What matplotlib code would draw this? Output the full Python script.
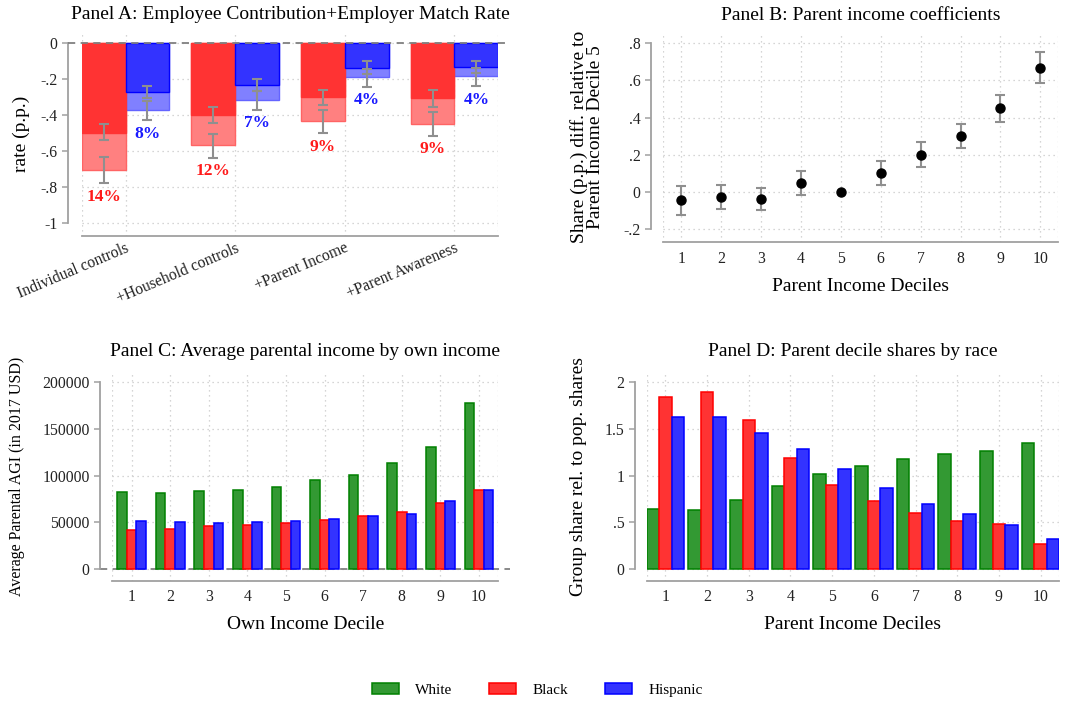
import numpy as np
import matplotlib
matplotlib.use("Agg")
import matplotlib.pyplot as plt
from matplotlib.patches import Patch
import matplotlib.transforms as mtransforms

plt.rcParams['font.family'] = ['Liberation Serif', 'DejaVu Serif']

# ---------------- Data ----------------
# Panel A
categories_A = ["Individual controls", "+Household controls", "+Parent Income", "+Parent Awareness"]
black_contrib = [-0.496, -0.396, -0.300, -0.306]
black_contrib_lo = [-0.539, -0.441, -0.343, -0.352]
black_contrib_hi = [-0.448, -0.354, -0.259, -0.261]
black_total = [-0.704, -0.567, -0.433, -0.446]
black_total_lo = [-0.776, -0.635, -0.500, -0.513]
black_total_hi = [-0.633, -0.502, -0.372, -0.381]
hisp_contrib = [-0.269, -0.230, -0.137, -0.130]
hisp_contrib_lo = [-0.306, -0.263, -0.170, -0.165]
hisp_contrib_hi = [-0.235, -0.196, -0.100, -0.096]
hisp_total = [-0.372, -0.315, -0.189, -0.183]
hisp_total_lo = [-0.426, -0.369, -0.241, -0.237]
hisp_total_hi = [-0.319, -0.263, -0.141, -0.139]
black_pct_labels = ["14%", "12%", "9%", "9%"]
hisp_pct_labels = ["8%", "7%", "4%", "4%"]
yticks_A = [0, -0.2, -0.4, -0.6, -0.8, -1]
yticklabels_A = ["0", "-.2", "-.4", "-.6", "-.8", "-1"]

# Panel B
deciles = [1, 2, 3, 4, 5, 6, 7, 8, 9, 10]
coef_B = [-0.043, -0.027, -0.039, 0.048, 0.0, 0.100, 0.200, 0.301, 0.450, 0.667]
ci_lo_B = [-0.122, -0.091, -0.099, -0.016, np.nan, 0.036, 0.134, 0.237, 0.376, 0.586]
ci_hi_B = [0.034, 0.039, 0.022, 0.111, np.nan, 0.165, 0.267, 0.367, 0.523, 0.751]
yticks_B = [-0.2, 0, 0.2, 0.4, 0.6, 0.8]
yticklabels_B = ["-.2", "0", ".2", ".4", ".6", ".8"]

# Panel C
white_C = [82650, 80860, 83000, 84800, 87650, 94800, 100180, 113060, 130230, 177460]
black_C = [41140, 42220, 45440, 46510, 48660, 52240, 56170, 60460, 70130, 84800]
hisp_C = [50800, 49730, 48660, 49730, 50800, 52950, 56170, 58320, 72990, 84800]
yticks_C = [0, 50000, 100000, 150000, 200000]
yticklabels_C = ["0", "50000", "100000", "150000", "200000"]

# Panel D
white_D = [0.637, 0.626, 0.737, 0.884, 1.013, 1.098, 1.173, 1.227, 1.259, 1.345]
black_D = [1.846, 1.893, 1.592, 1.191, 0.894, 0.726, 0.594, 0.508, 0.476, 0.261]
hisp_D = [1.631, 1.624, 1.453, 1.281, 1.066, 0.862, 0.690, 0.583, 0.465, 0.315]
yticks_D = [0, 0.5, 1, 1.5, 2]
yticklabels_D = ["0", ".5", "1", "1.5", "2"]

legend_labels = ["White", "Black", "Hispanic"]

# ---------------- Styles ----------------
GREEN_F, GREEN_E = (51/255, 153/255, 51/255), (0, 128/255, 0)
RED_F, RED_E = (1, 51/255, 51/255), (1, 0, 0)
BLUE_F, BLUE_E = (51/255, 51/255, 1), (0, 0, 1)
RED_L, RED_LE = (1, 128/255, 128/255), (1, 100/255, 100/255)
BLUE_L, BLUE_LE = (128/255, 128/255, 1), (100/255, 100/255, 1)
AXC = '#a0a0a0'
GRIDC = '#c8c8c8'
ERRC = '#8f8f8f'
TITLE_FS = 14
LABEL_FS = 14
TICK_FS = 11.3

fig = plt.figure(figsize=(10.68, 7.02), dpi=100)

W, H = 1068, 702
def add_ax(x0, x1, ytop, ybot):
    return fig.add_axes([x0 / W, (H - ybot) / H, (x1 - x0) / W, (ybot - ytop) / H])

axA = add_ax(81.7, 498.3, 32.0, 236.0)
axB = add_ax(663.3, 1058.3, 32.3, 242.3)
axC = add_ax(112.3, 498.3, 371.7, 581.0)
axD = add_ax(646.7, 1059.3, 371.7, 581.0)

grid_ls = (0, (1, 3))

def style(ax, yticks, ylabels, xticks, xlabels, offset_px, xlim):
    ax.set_xlim(*xlim)
    ax.set_yticks(yticks)
    ax.set_yticklabels(ylabels)
    ax.set_xticks(xticks)
    ax.set_xticklabels(xlabels)
    for s in ['top', 'right']:
        ax.spines[s].set_visible(False)
    ax.spines['left'].set_position(('outward', offset_px * 72 / 100))
    ax.spines['left'].set_bounds(min(yticks), max(yticks))
    for s in ['left', 'bottom']:
        ax.spines[s].set_color(AXC)
        ax.spines[s].set_linewidth(1.3)
    ax.tick_params(axis='y', direction='out', length=4.5, width=1.1, color=AXC,
                   pad=3, labelsize=TICK_FS, labelcolor='#222222')
    ax.tick_params(axis='x', length=0, pad=6, labelsize=TICK_FS, labelcolor='#222222')
    ax.grid(True, linestyle=grid_ls, color=GRIDC, linewidth=0.9)
    for xe in xlim:
        ax.axvline(xe, linestyle=grid_ls, color=GRIDC, linewidth=0.9, zorder=0.5)
    ax.set_axisbelow(True)

# ---------------- Panel A ----------------
xA = np.arange(1, len(categories_A) + 1)
bw = 0.4
xr = xA - bw / 2
xb = xA + bw / 2
axA.bar(xr, black_total, width=bw, color=RED_L, edgecolor=RED_LE, linewidth=1.0, zorder=2)
axA.bar(xr, black_contrib, width=bw, color=RED_F, edgecolor=RED_F, linewidth=1.0, zorder=3)
axA.bar(xb, hisp_total, width=bw, color=BLUE_L, edgecolor=BLUE_LE, linewidth=1.0, zorder=2)
axA.bar(xb, hisp_contrib, width=bw, color=BLUE_F, edgecolor=BLUE_E, linewidth=1.0, zorder=3)

def errs(ax, x, y, lo, hi, **kw):
    y = np.asarray(y, float); lo = np.asarray(lo, float); hi = np.asarray(hi, float)
    yerr = np.vstack([y - lo, hi - y])
    ax.errorbar(x, y, yerr=yerr, fmt='none', ecolor=ERRC, elinewidth=1.5,
                capsize=3.5, capthick=1.5, zorder=4, **kw)

errs(axA, xr, black_contrib, black_contrib_lo, black_contrib_hi)
errs(axA, xr, black_total, black_total_lo, black_total_hi)
errs(axA, xb, hisp_contrib, hisp_contrib_lo, hisp_contrib_hi)
errs(axA, xb, hisp_total, hisp_total_lo, hisp_total_hi)

for i in range(len(xA)):
    axA.text(xr[i], black_total_lo[i] - 0.075, black_pct_labels[i], color='#ff1a1a',
             fontweight='bold', fontsize=12.5, ha='center', va='center', zorder=5)
    axA.text(xb[i], hisp_total_lo[i] - 0.075, hisp_pct_labels[i], color='#1a1aff',
             fontweight='bold', fontsize=12.5, ha='center', va='center', zorder=5)

xlimA = (0.6, 4.4)
style(axA, yticks_A, yticklabels_A, xA, categories_A, 13.7, xlimA)
axA.set_ylim(-1.07, 0.063)
for lab in axA.get_xticklabels():
    lab.set_rotation(23)
    lab.set_ha('right')
    lab.set_va('top')
    lab.set_rotation_mode('anchor')
    lab.set_fontsize(11.3)
axA.tick_params(axis='x', pad=3)
transA = mtransforms.blended_transform_factory(axA.transAxes, axA.transData)
axA.plot([-0.033, 1.021], [0, 0], transform=transA, color='#808080', linestyle=(0, (4, 3)),
         linewidth=1.3, clip_on=False, zorder=3.5)
axA.set_ylabel("rate (p.p.)", fontsize=LABEL_FS)
axA.yaxis.set_label_coords(-0.124, 0.5)
axA.set_title("Panel A: Employee Contribution+Employer Match Rate", fontsize=TITLE_FS, pad=9)

# ---------------- Panel B ----------------
coefB = np.asarray(coef_B, float)
loB = np.asarray(ci_lo_B, float)
hiB = np.asarray(ci_hi_B, float)
dB = np.asarray(deciles)
m = np.isfinite(loB)
errs(axB, dB[m], coefB[m], loB[m], hiB[m])
axB.plot(dB, coefB, 'o', color='black', markersize=6.5, zorder=5)
style(axB, yticks_B, yticklabels_B, deciles, [str(d) for d in deciles], 12.3, (0.55, 10.45))
axB.set_ylim(-0.27, 0.859)
axB.set_ylabel("Share (p.p.) diff. relative to\nParent Income Decile 5", fontsize=LABEL_FS,
               linespacing=0.95)
axB.yaxis.set_label_coords(-0.15, 0.5)
axB.set_xlabel("Parent Income Deciles", fontsize=LABEL_FS, labelpad=8)
axB.set_title("Panel B: Parent income coefficients", fontsize=TITLE_FS, pad=9)

# ---------------- Panel C ----------------
dC = np.asarray(deciles, float)
wC = 0.25
axC.bar(dC - wC, white_C, width=wC, color=GREEN_F, edgecolor=GREEN_E, linewidth=1.1, zorder=2)
axC.bar(dC, black_C, width=wC, color=RED_F, edgecolor=RED_E, linewidth=1.1, zorder=2)
axC.bar(dC + wC, hisp_C, width=wC, color=BLUE_F, edgecolor=BLUE_E, linewidth=1.1, zorder=2)
style(axC, yticks_C, yticklabels_C, deciles, [str(d) for d in deciles], 12.3, (0.5, 10.5))
axC.set_ylim(-13200, 211500)
transC = mtransforms.blended_transform_factory(axC.transAxes, axC.transData)
axC.plot([-0.032, 1.03], [0, 0], transform=transC, color='#808080', linestyle=(0, (4, 3)),
         linewidth=1.3, clip_on=False, zorder=1.5)
axC.set_ylabel("Average Parental AGI (in 2017 USD)", fontsize=11.5)
axC.yaxis.set_label_coords(-0.227, 0.5)
axC.set_xlabel("Own Income Decile", fontsize=LABEL_FS, labelpad=8)
axC.set_title("Panel C: Average parental income by own income", fontsize=TITLE_FS, pad=11)

# ---------------- Panel D ----------------
wD = 0.3
axD.bar(dC - wD, white_D, width=wD, color=GREEN_F, edgecolor=GREEN_E, linewidth=1.1, zorder=2)
axD.bar(dC, black_D, width=wD, color=RED_F, edgecolor=RED_E, linewidth=1.1, zorder=2)
axD.bar(dC + wD, hisp_D, width=wD, color=BLUE_F, edgecolor=BLUE_E, linewidth=1.1, zorder=2)
style(axD, yticks_D, yticklabels_D, deciles, [str(d) for d in deciles], 11.7, (0.55, 10.45))
axD.set_ylim(-0.132, 2.114)
axD.set_ylabel("Group share rel. to pop. shares", fontsize=LABEL_FS)
axD.yaxis.set_label_coords(-0.144, 0.5)
axD.set_xlabel("Parent Income Deciles", fontsize=LABEL_FS, labelpad=8)
axD.set_title("Panel D: Parent decile shares by race", fontsize=TITLE_FS, pad=11)

# ---------------- Legend ----------------
handles = [Patch(facecolor=GREEN_F, edgecolor=GREEN_E, linewidth=1.1),
           Patch(facecolor=RED_F, edgecolor=RED_E, linewidth=1.1),
           Patch(facecolor=BLUE_F, edgecolor=BLUE_E, linewidth=1.1)]
fig.legend(handles, legend_labels, loc='center', bbox_to_anchor=(0.503, 0.017), ncol=3,
           frameon=False, fontsize=11, handlelength=1.75, handleheight=0.72,
           handletextpad=1.05, columnspacing=2.45)

fig.savefig("out.png", dpi=100)
